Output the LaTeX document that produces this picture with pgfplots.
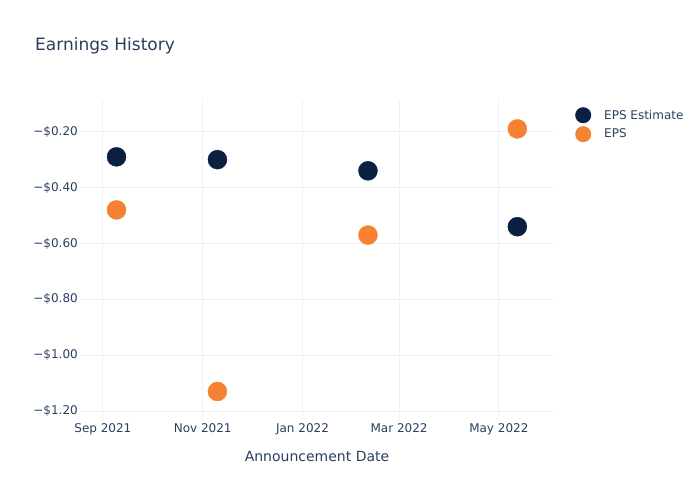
\documentclass[border=0pt]{standalone}
\usepackage{fontspec}
\setmainfont{DejaVu Sans}
\usepackage{pgfplots}
\pgfplotsset{compat=1.18}
\definecolor{estnavy}{HTML}{0B1F40}
\definecolor{epsorange}{HTML}{F58233}
\definecolor{txt}{HTML}{2A3F5F}
\definecolor{gridc}{HTML}{EEF2F8}
% x values: days since 1 Sep 2021
\begin{document}
\begin{tikzpicture}
\useasboundingbox (0,0) rectangle (700bp,500bp);
\node[anchor=base west, inner sep=0pt, text=txt, font=\fontsize{17bp}{20bp}\selectfont]
  at (35bp,449bp) {Earnings History};
\begin{axis}[
    at={(80bp,80bp)}, anchor=south west,
    scale only axis, width=474bp, height=320bp,
    xmin=-14, xmax=275.7,
    ymin=-1.232, ymax=-0.0865,
    axis line style={draw=none},
    major tick length=0pt,
    xmajorgrids, ymajorgrids,
    grid style={gridc, line width=1bp},
    xtick={0,61,122,181,242},
    xticklabels={Sep 2021,Nov 2021,Jan 2022,Mar 2022,May 2022},
    ytick={-1.2,-1,-0.8,-0.6,-0.4,-0.2},
    yticklabels={−\$1.20,−\$1.00,−\$0.80,−\$0.60,−\$0.40,−\$0.20},
    ticklabel style={text=txt, font=\fontsize{12bp}{14bp}\selectfont},
    yticklabel style={anchor=east, inner sep=0pt, xshift=-2bp},
    xticklabel style={anchor=north, inner sep=0pt, yshift=-3bp},
    xlabel={Announcement Date},
    xlabel style={at={(axis description cs:0.5,0)}, anchor=base, yshift=-41bp,
      text=txt, font=\fontsize{14bp}{17bp}\selectfont, inner sep=0pt},
    legend style={at={(axis description cs:1,1)}, anchor=north west,
      xshift=21bp, yshift=-7bp, draw=none, fill=none,
      font=\fontsize{12bp}{14bp}\selectfont, text=txt,
      row sep=3bp, inner sep=0pt},
    legend cell align=left,
    legend image code/.code={\fill[#1] (8bp,0) circle (8bp);},
    clip=false,
  ]
\addplot[only marks, mark=*, mark size=9.5bp, color=estnavy, draw=none]
  coordinates {(8.3,-0.29) (70,-0.30) (162,-0.34) (253.3,-0.54)};
\addlegendentry{\hspace{11bp}EPS Estimate}
\addplot[only marks, mark=*, mark size=9.5bp, color=epsorange, draw=none]
  coordinates {(8.3,-0.48) (70,-1.13) (162,-0.57) (253.3,-0.19)};
\addlegendentry{\hspace{11bp}EPS}
\end{axis}
\end{tikzpicture}
\end{document}
